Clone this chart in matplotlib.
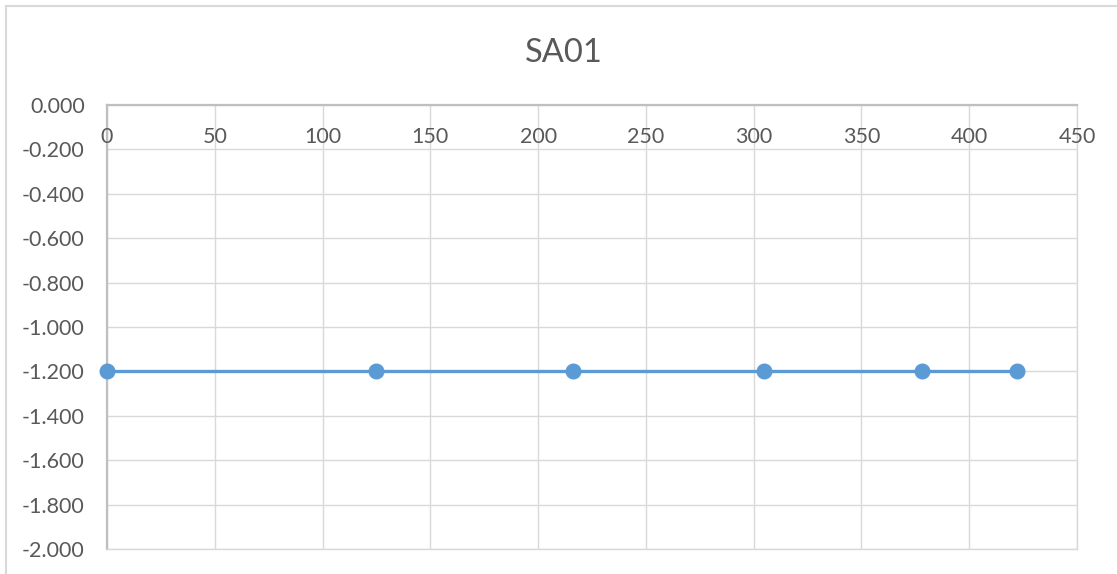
import numpy as np
import matplotlib.pyplot as plt
from matplotlib.patches import Rectangle

plt.rcParams['font.family'] = ['Lato', 'DejaVu Sans']

# data
title = "SA01"
x_vals = [0, 125, 216, 305, 378, 422]
y_vals = [-1.2, -1.2, -1.2, -1.2, -1.2, -1.2]
x_ticks = [0, 50, 100, 150, 200, 250, 300, 350, 400, 450]
y_ticks = [0.0, -0.2, -0.4, -0.6, -0.8, -1.0, -1.2, -1.4, -1.6, -1.8, -2.0]

text_col = '#595959'
grid_col = '#d9d9d9'
axis_col = '#bfbfbf'
line_col = '#5b9bd5'

W, H = 1117, 574
fig = plt.figure(figsize=(W / 100, H / 100), dpi=100)

# chart area border (only top/left visible in the crop)
fig.patches.append(Rectangle((6 / W, -0.5), 2, 1.5 - 6 / H, transform=fig.transFigure,
                             fill=False, edgecolor=grid_col, lw=1.5))

ax = fig.add_axes([107 / W, 1 - 549 / H, (1077 - 107) / W, (549 - 105) / H])
ax.set_xlim(0, 450)
ax.set_ylim(-2.0, 0.0)

ax.plot(x_vals, y_vals, color=line_col, lw=2.4, marker='o', markersize=10.5,
        markerfacecolor=line_col, markeredgecolor=line_col, zorder=3, clip_on=False)

ax.set_xticks(x_ticks)
ax.set_yticks(y_ticks)
ax.grid(True, color=grid_col, lw=1.0)
ax.set_axisbelow(True)

for s in ['right', 'bottom']:
    ax.spines[s].set_color(grid_col)
    ax.spines[s].set_linewidth(1.0)
for s in ['left', 'top']:
    ax.spines[s].set_color(axis_col)
    ax.spines[s].set_linewidth(1.6)

ax.tick_params(axis='both', length=0)
ax.tick_params(axis='x', labelbottom=False)
ax.tick_params(axis='y', pad=16, labelcolor=text_col, labelsize=15.5)
ax.set_yticklabels([f"{v:.3f}" for v in y_ticks])

# x labels sit just under the zero line
for xt in x_ticks:
    ax.annotate(str(xt), xy=(xt, 0), xytext=(0, -16), textcoords='offset points',
                ha='center', va='top', color=text_col, fontsize=15.5,
                annotation_clip=False)

fig.text(564 / W, 1 - 52.5 / H, title, ha='center', va='center', color=text_col, fontsize=23.5)

fig.savefig('out.png', dpi=100)
